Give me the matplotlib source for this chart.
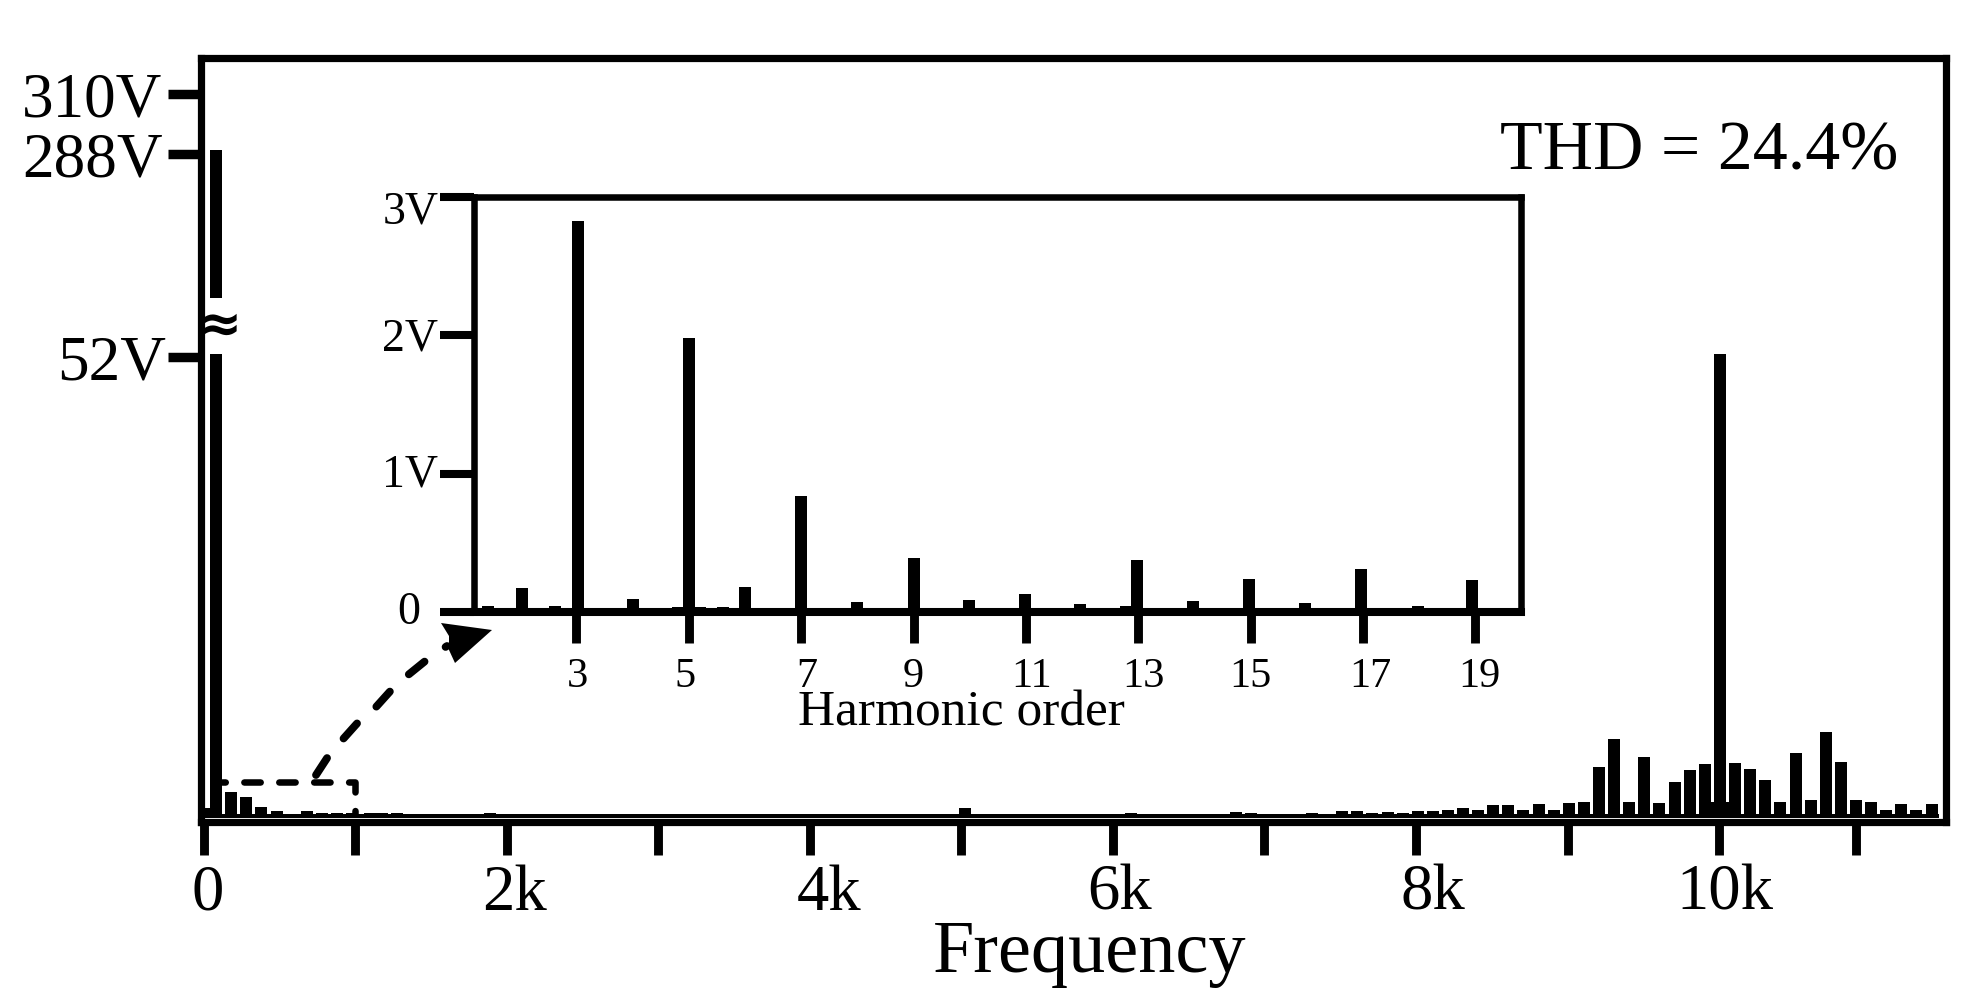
import numpy as np
import matplotlib
matplotlib.use('Agg')
import matplotlib.pyplot as plt
from matplotlib.lines import Line2D
from matplotlib.patches import Polygon
from matplotlib.transforms import Affine2D

plt.rcParams['font.family'] = ['Liberation Serif', 'DejaVu Serif']

W, H = 1988, 1007

# main spectrum, Hz and volts
freqs = [20, 178, 277, 376, 482, 680, 779, 878, 977, 1096, 1175, 1274, 1888,
         5023, 6119, 6812, 6911, 7314, 7512, 7611, 7710, 7815, 7914, 8013, 8112,
         8211, 8310, 8409, 8508, 8607, 8706, 8812, 8911, 9010, 9109, 9208, 9307,
         9406, 9505, 9604, 9710, 9809, 9908, 10007, 10106, 10205, 10304, 10403,
         10508, 10607, 10706, 10805, 10904, 11003, 11102, 11201, 11300, 11406]
volts = [1.16, 2.93, 2.37, 1.24, 0.79, 0.79, 0.6, 0.6, 0.56, 0.6, 0.6, 0.6, 0.56,
         1.13, 0.56, 0.68, 0.56, 0.56, 0.79, 0.79, 0.56, 0.68, 0.56, 0.79, 0.79,
         0.9, 1.13, 0.9, 1.47, 1.47, 0.9, 1.58, 0.9, 1.69, 1.8, 5.75, 8.91,
         1.8, 6.88, 1.69, 4.06, 5.41, 6.09, 55.5, 6.2, 5.53, 4.29, 1.8,
         7.33, 2.03, 9.7, 6.32, 2.03, 1.8, 0.9, 1.58, 0.9, 1.58]
fund_freq = 79
fund_volts = 289.5
break_low = 56
break_high = 120.6
carrier_freq = 10007
carrier_skirt = 1.8

# y axis is squeezed between 52V and 288V
scale_volts = [-1, 0, 52, 288, 310, 330]
scale_pos = [-8.865, 0, 461, 664, 724, 778.5]

main_xticks = [0, 1000, 2000, 3000, 4000, 5000, 6000, 7000, 8000, 9000, 10000, 10905]
main_xlabels = {0: '0', 2000: '2k', 4000: '4k', 6000: '6k', 8000: '8k', 10000: '10k'}
main_xlabel_shift = {0: 4, 2000: 8, 4000: 19, 6000: 7, 8000: 17, 10000: 6}
main_yticks = [52, 288, 310]
main_ylabels = ['52V', '288V', '310V']
main_ylabel_right = [-34.5, -38, -38]

# inset, harmonic order and volts
orders = [1.42, 2.03, 2.62, 3.03, 4.01, 4.81, 5.0, 5.2, 5.6, 6.0, 7.0, 8.0, 9.0, 9.99,
          10.98, 11.97, 12.78, 12.97, 13.97, 14.97, 15.96, 16.96, 17.97, 18.94]
harm_volts = [0.04, 0.17, 0.04, 2.825, 0.094, 0.036, 1.98, 0.036, 0.036, 0.18, 0.838,
              0.072, 0.39, 0.087, 0.13, 0.058, 0.04, 0.376, 0.08, 0.238, 0.065, 0.31,
              0.04, 0.23]
inset_xticks = [3, 5, 7, 9, 11, 13, 15, 17, 19]
inset_xlabel_shift = [1, -3.5, 6, 0, 6, 5, 0, 7, 4]
inset_yticks = [0, 1, 2, 3]
inset_ylabels = ['0', '1V', '2V', '3V']
inset_ylabel_right = [-53.5, -35, -35, -35]
inset_ylabel_down = [12, 12.5, 15, 26]


def forward(v):
    return np.interp(v, scale_volts, scale_pos)


def inverse(p):
    return np.interp(p, scale_pos, scale_volts)


def px_axes(left, top, right, bottom):
    return fig.add_axes([left / W, 1 - bottom / H, (right - left) / W, (bottom - top) / H])


fig = plt.figure(figsize=(W / 100, H / 100), dpi=100)
px = Affine2D().scale(1, -1).translate(0, H)

# main axes
ax = px_axes(200.5, 58.3, 1945.5, 821.5)
ax.set_yscale('function', functions=(forward, inverse))
ax.set_xlim(-23, 11495)
ax.set_ylim(-0.395, 323.1)

ax.bar(freqs, volts, width=79, color='black', linewidth=0)
ax.bar([fund_freq], [break_low], width=82, color='black', linewidth=0)
ax.bar([fund_freq], [fund_volts - break_high], bottom=break_high, width=84, color='black', linewidth=0)
ax.bar([carrier_freq], [carrier_skirt], width=119, color='black', linewidth=0)
ax.fill_between([0, 11450], 0, 0.45, color='black', linewidth=0)

for side in ax.spines.values():
    side.set_linewidth(5.2)
ax.set_xticks(main_xticks)
ax.set_xticklabels([])
ax.set_yticks(main_yticks)
ax.set_yticklabels([])
ax.minorticks_off()
ax.tick_params(axis='x', length=23.4, width=6.4, direction='out')
ax.tick_params(axis='y', length=24.1, width=6.8, direction='out')

for x, label in main_xlabels.items():
    ax.annotate(label, xy=(x, 0), xycoords=ax.get_xaxis_transform(),
                xytext=(main_xlabel_shift[x], -88.5), textcoords='offset pixels',
                ha='center', va='baseline', fontsize=46.5)
for y, label, right in zip(main_yticks, main_ylabels, main_ylabel_right):
    ax.annotate(label, xy=(0, y), xycoords=ax.get_yaxis_transform(),
                xytext=(right, -22.5), textcoords='offset pixels',
                ha='right', va='baseline', fontsize=45.5)

# dashed box around the low harmonics
ax.plot([119, 997, 997], [4.06, 4.06, 0.45], color='black', lw=4.7,
        linestyle=(2.0, (2.5, 2.85)), dash_capstyle='round', dash_joinstyle='round', zorder=1)

# inset axes
inset = px_axes(473.5, 197, 1521, 612)
inset.set_xlim(1.167, 19.81)
inset.set_ylim(0, 3)
inset.bar(orders, harm_volts, width=0.2135, color='black', linewidth=0)
for side in inset.spines.values():
    side.set_linewidth(4.7)
inset.spines['bottom'].set_linewidth(5.8)
inset.set_xticks(inset_xticks)
inset.set_xticklabels([])
inset.set_yticks(inset_yticks)
inset.set_yticklabels([])
inset.tick_params(axis='x', length=22.3, width=6.4, direction='out')
inset.tick_params(axis='y', length=24.8, width=5.8, direction='out')

for x, shift in zip(inset_xticks, inset_xlabel_shift):
    inset.annotate(str(x), xy=(x, 0), xycoords=inset.get_xaxis_transform(),
                   xytext=(shift, -75), textcoords='offset pixels',
                   ha='center', va='baseline', fontsize=30.5)
for y, label, right, down in zip(inset_yticks, inset_ylabels, inset_ylabel_right, inset_ylabel_down):
    inset.annotate(label, xy=(0, y), xycoords=inset.get_yaxis_transform(),
                   xytext=(right, -down), textcoords='offset pixels',
                   ha='right', va='baseline', fontsize=33)

# dashed arrow from the box to the inset
arrow_x = [316, 331, 344, 361, 376, 394, 408, 429, 447]
arrow_y = [775, 752, 738, 719, 707, 687, 675, 658, 646]
fig.add_artist(Line2D(arrow_x, arrow_y, color='black', lw=5.6, transform=px,
                      linestyle=(0, (2.6, 3.3)), dash_capstyle='round', solid_joinstyle='round'))
fig.add_artist(Polygon([(492, 630), (441, 623), (449, 636), (449, 650), (455, 663)],
                       closed=True, color='black', linewidth=0, transform=px))

# text
fig.text(1500 / W, 1 - 170 / H, 'THD = 24.4%', fontsize=50.3, ha='left', va='baseline')
fig.text(1090 / W, 1 - 972 / H, 'Frequency', fontsize=53.5, ha='center', va='baseline')
fig.text(798 / W, 1 - 726 / H, 'Harmonic order', fontsize=37, ha='left', va='baseline')
fig.text(219 / W, 1 - 326 / H, '≈', fontsize=39, ha='center', va='center',
         family='DejaVu Sans', fontweight='bold')

fig.savefig('out.png', dpi=100, facecolor='white')
